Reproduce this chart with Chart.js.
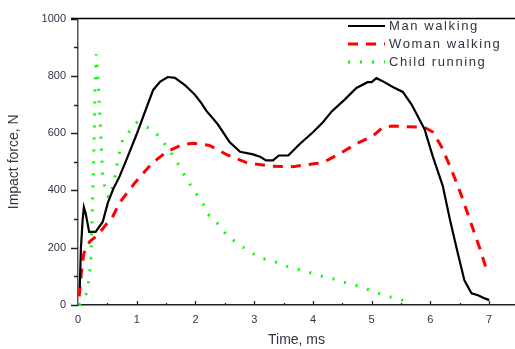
<!DOCTYPE html>
<html>
<head>
<meta charset="utf-8">
<script src="https://cdn.jsdelivr.net/npm/chart.js@4"></script>
<style>
    body { margin: 0; background: #fff; }
    #wrap { width: 515px; height: 349px; }
</style>
</head>
<body>
<div id="wrap"><canvas id="chart" width="515" height="349"></canvas></div>
<script>
// tick labels
const xTicks = [0, 1, 2, 3, 4, 5, 6, 7];
const yTicks = [0, 200, 400, 600, 800, 1000];

// Man walking
const manX = [0.03, 0.05, 0.08, 0.1, 0.13, 0.19, 0.3, 0.35, 0.42, 0.51, 0.6, 0.71, 0.85, 1.0, 1.15, 1.28, 1.4, 1.53, 1.65, 1.82, 1.99, 2.1, 2.19, 2.38, 2.58, 2.76, 2.98, 3.1, 3.2, 3.32, 3.42, 3.58, 3.78, 4.0, 4.17, 4.32, 4.54, 4.74, 4.93, 5.0, 5.08, 5.2, 5.36, 5.53, 5.68, 5.9, 6.04, 6.21, 6.33, 6.47, 6.58, 6.7, 6.81, 6.9, 7.0];
const manY = [60, 200, 300, 341, 320, 255, 255, 270, 290, 358, 405, 450, 520, 597, 680, 751, 780, 796, 793, 768, 734, 705, 677, 631, 569, 535, 526, 518, 505, 505, 522, 522, 563, 603, 638, 676, 717, 758, 778, 778, 792, 780, 761, 744, 700, 614, 519, 416, 300, 177, 85, 41, 34, 25, 17];

// Woman walking
const womanX = [0.02, 0.06, 0.1, 0.2, 0.34, 0.49, 0.58, 0.71, 0.97, 1.26, 1.51, 1.78, 1.96, 2.24, 2.55, 2.87, 3.27, 3.66, 4.08, 4.25, 4.46, 4.74, 5.02, 5.19, 5.36, 5.9, 6.04, 6.19, 6.36, 6.53, 6.7, 6.84, 6.95];
const womanY = [30, 120, 181, 222, 245, 284, 304, 358, 427, 495, 535, 560, 565, 557, 523, 497, 485, 483, 495, 506, 529, 563, 590, 620, 625, 620, 604, 552, 472, 381, 280, 198, 127];

// Child running
const childX = [0.02, 0.14, 0.18, 0.22, 0.24, 0.27, 0.29, 0.31, 0.35, 0.39, 0.42, 0.49, 0.54, 0.63, 0.69, 0.77, 0.88, 1.0, 1.22, 1.4, 1.51, 1.65, 1.76, 1.87, 2.0, 2.12, 2.21, 2.4, 2.55, 2.72, 2.89, 3.1, 3.32, 3.52, 3.72, 3.95, 4.17, 4.4, 4.6, 4.8, 5.02, 5.25, 5.48, 5.55];
const childY = [0, 40, 80, 154, 313, 529, 757, 876, 757, 586, 450, 381, 375, 450, 518, 586, 607, 637, 617, 586, 552, 512, 472, 433, 392, 358, 317, 280, 239, 215, 191, 164, 154, 137, 126, 113, 99, 89, 75, 65, 48, 31, 20, 15];

function pts(xs, ys) {
    return xs.map((x, i) => ({ x: x, y: ys[i] }));
}

const FONT = 'Arial, "Liberation Sans", sans-serif';

// ticks (y outward, x inward) + top border + legend
const decor = {
    id: 'decor',
    afterDraw(chart) {
        const ctx = chart.ctx;
        const area = chart.chartArea;
        const xs = chart.scales.x, ys = chart.scales.y;
        ctx.save();
        ctx.strokeStyle = '#222';
        ctx.lineWidth = 1.3;
        ctx.beginPath();
        for (let v = 0; v <= 1000; v += 100) {
            const py = Math.round(ys.getPixelForValue(v)) + 0.5;
            const len = v % 200 === 0 ? 7 : 4;
            ctx.moveTo(area.left - len, py);
            ctx.lineTo(area.left, py);
        }
        for (let v = 0.5; v <= 7; v += 0.5) {
            const px = Math.round(xs.getPixelForValue(v)) + 0.5;
            const len = Number.isInteger(v) ? 4 : 2;
            ctx.moveTo(px, area.bottom);
            ctx.lineTo(px, area.bottom - len);
        }
        ctx.stroke();
        // top border
        ctx.strokeStyle = '#000';
        ctx.lineWidth = 1.5;
        ctx.beginPath();
        ctx.moveTo(area.left - 7, area.top);
        ctx.lineTo(area.right, area.top);
        ctx.stroke();

        // legend
        const lx = 348, ly = 26, row = 18;
        ctx.font = '13px ' + FONT;
        ctx.textBaseline = 'middle';
        ctx.fillStyle = '#333344';
        chart.data.datasets.forEach((ds, i) => {
            const y = ly + i * row;
            ctx.strokeStyle = ds.borderColor;
            ctx.lineWidth = ds.borderWidth;
            ctx.setLineDash(ds.borderDash || []);
            ctx.beginPath();
            ctx.moveTo(lx, y);
            ctx.lineTo(lx + 37, y);
            ctx.stroke();
            ctx.setLineDash([]);
            ctx.letterSpacing = '1.6px';
            ctx.fillText(ds.label, lx + 41, y);
            ctx.letterSpacing = '0px';
        });
        ctx.restore();
    }
};

const ctx = document.getElementById('chart').getContext('2d');
new Chart(ctx, {
    type: 'line',
    data: {
        datasets: [
            {
                label: 'Man walking',
                data: pts(manX, manY),
                borderColor: '#000000',
                borderWidth: 2.2,
                pointRadius: 0,
                tension: 0,
                fill: false
            },
            {
                label: 'Woman walking',
                data: pts(womanX, womanY),
                borderColor: '#ff0000',
                borderWidth: 3,
                borderDash: [10, 8],
                pointRadius: 0,
                tension: 0,
                fill: false
            },
            {
                label: 'Child running',
                data: pts(childX, childY),
                borderColor: '#00ff00',
                borderWidth: 3,
                borderDash: [2, 10],
                pointRadius: 0,
                tension: 0,
                fill: false
            }
        ]
    },
    options: {
        responsive: false,
        animation: false,
        layout: { padding: { top: 12, right: 0, left: 0, bottom: 0 } },
        plugins: {
            legend: { display: false },
            tooltip: { enabled: false }
        },
        scales: {
            x: {
                type: 'linear',
                min: 0,
                max: 7.44,
                afterBuildTicks: s => { s.ticks = xTicks.map(v => ({ value: v })); },
                afterFit: s => { s.height = 44; },
                grid: { display: false, drawTicks: false },
                border: { display: true, color: '#222', width: 1.5 },
                ticks: {
                    padding: 8,
                    color: '#333344',
                    callback: v => String(v),
                    font: { family: FONT, size: 11 }
                },
                title: {
                    display: true,
                    text: 'Time, ms',
                    color: '#333344',
                    font: { family: FONT, size: 14 },
                    padding: { top: 6, bottom: 0 }
                }
            },
            y: {
                min: 0,
                max: 1000,
                afterBuildTicks: s => { s.ticks = yTicks.map(v => ({ value: v })); },
                afterFit: s => { s.width = 78; },
                grid: { display: false, drawTicks: false },
                border: { display: true, color: '#555', width: 1.5 },
                ticks: {
                    padding: 12,
                    color: '#333344',
                    callback: v => String(v),
                    font: { family: FONT, size: 11 }
                },
                title: {
                    display: true,
                    text: 'Impact force, N',
                    color: '#333344',
                    font: { family: FONT, size: 14 },
                    padding: { top: 6, bottom: 0 }
                }
            }
        }
    },
    plugins: [decor]
});
</script>
</body>
</html>
